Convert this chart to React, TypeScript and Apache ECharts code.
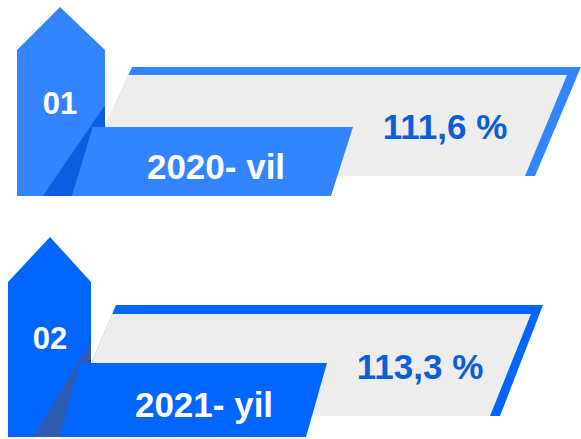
import React, { useEffect, useRef } from "react";
import * as echarts from "echarts";

// ---- data ----
const indexLabels = ["01", "02"];
const yearLabels = ["2020- vil", "2021- yil"];
const growthValues = [111.6, 113.3];

// ---- styling / layout (not data) ----
const lightColors = ["#3385FF", "#0066FF"];
const darkColors = ["#0A5FE0", "#2E5AB0"];
const valueColor = "#0B5ED7";
const greyFill = "#EDEDED";
const FONT = "'Liberation Sans', Arial, sans-serif";

type P = [number, number];
interface Layout {
  pent: P[];
  bandOuter: P[];
  bandInner: P[];
  dark: P[];
  label: P[];
  idx: P;
  year: P;
  value: P;
}

const layouts: Layout[] = [
  {
    pent: [[17, 50], [60, 7], [105, 50], [105, 196], [17, 196]],
    bandOuter: [[132, 67], [581, 67], [535, 176], [83, 176]],
    bandInner: [[128, 75], [567, 75], [525, 176], [83, 176]],
    dark: [[105, 105], [105, 127], [93, 127], [72, 196], [43, 196]],
    label: [[93, 127], [353, 127], [331, 196], [72, 196]],
    idx: [60, 103],
    year: [216, 166],
    value: [445, 126],
  },
  {
    pent: [[8, 282], [50, 237], [91, 282], [91, 437], [8, 437]],
    bandOuter: [[116, 305], [543, 305], [500, 416], [69, 416]],
    bandInner: [[112, 314], [531, 314], [490, 416], [69, 416]],
    dark: [[91, 342], [91, 363], [80, 363], [60, 437], [33, 437]],
    label: [[80, 363], [327, 363], [306, 437], [60, 437]],
    idx: [50, 338],
    year: [204, 404],
    value: [420, 366],
  },
];

const fmt = (v: number) => v.toFixed(1).replace(".", ",") + " %";

export default function App() {
  const ref = useRef<HTMLDivElement>(null);
  useEffect(() => {
    if (!ref.current) return;
    const chart = echarts.init(ref.current, undefined, { renderer: "svg" });
    const elements: any[] = [];
    indexLabels.forEach((idx, i) => {
      const L = layouts[i];
      elements.push(
        { type: "polygon", shape: { points: L.bandOuter }, style: { fill: lightColors[i] } },
        { type: "polygon", shape: { points: L.bandInner }, style: { fill: greyFill } },
        { type: "polygon", shape: { points: L.pent }, style: { fill: lightColors[i] } },
        { type: "polygon", shape: { points: L.dark }, style: { fill: darkColors[i] } },
        { type: "polygon", shape: { points: L.label }, style: { fill: lightColors[i] } },
        {
          type: "text",
          x: L.idx[0],
          y: L.idx[1],
          style: {
            text: idx,
            fill: "#ffffff",
            font: `bold 31px ${FONT}`,
            textAlign: "center",
            textVerticalAlign: "middle",
          },
        },
        {
          type: "text",
          x: L.year[0],
          y: L.year[1],
          style: {
            text: yearLabels[i],
            fill: "#ffffff",
            font: `bold 35px ${FONT}`,
            textAlign: "center",
            textVerticalAlign: "middle",
          },
        },
        {
          type: "text",
          x: L.value[0],
          y: L.value[1],
          style: {
            text: fmt(growthValues[i]),
            fill: valueColor,
            font: `bold 35px ${FONT}`,
            textAlign: "center",
            textVerticalAlign: "middle",
          },
        }
      );
    });
    chart.setOption({
      animation: false,
      backgroundColor: "#ffffff",
      graphic: { elements },
    });
    return () => chart.dispose();
  }, []);
  return (
    <div
      ref={ref}
      style={{ position: "fixed", left: 0, top: 0, width: 581, height: 439 }}
    />
  );
}
